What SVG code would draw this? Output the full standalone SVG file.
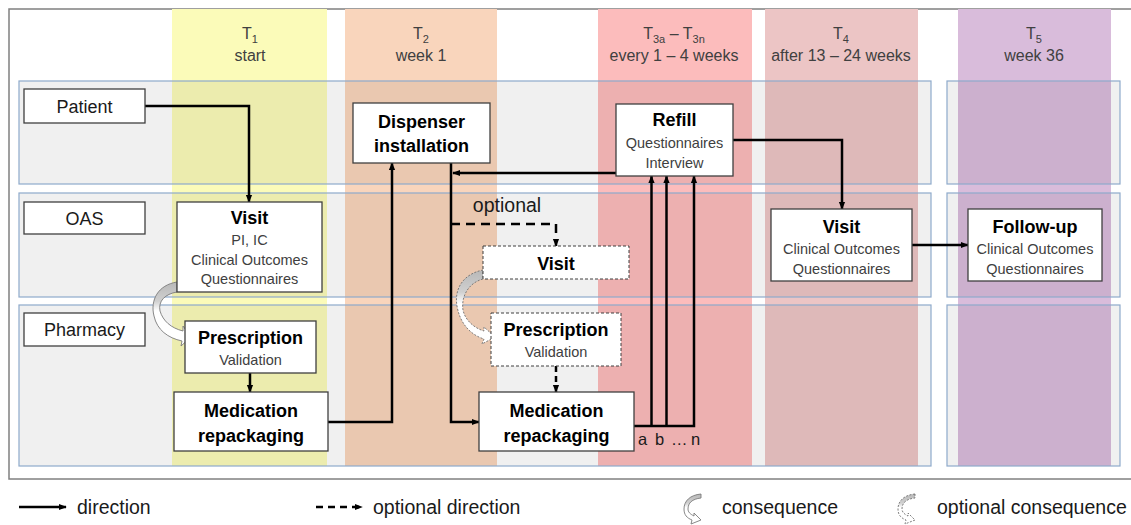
<svg xmlns="http://www.w3.org/2000/svg" width="1131" height="525" viewBox="0 0 1131 525">
  <defs>
    <style>
      text { font-family: "Liberation Sans", Arial, sans-serif; }
      .hd { font-size: 16px; fill: #404040; text-anchor: middle; }
      .sb { font-size: 11px; }
      .band { stroke: none; }
      .lane { fill: #000; fill-opacity: 0.06; stroke: #8eaacb; stroke-width: 1.2; }
      .box { fill: #fff; stroke: #3f3f3f; stroke-width: 1.3; }
      .opt { stroke-dasharray: 3 2; stroke-width: 1; }
      .ti { font-size: 18px; font-weight: bold; fill: #000; text-anchor: middle; }
      .tx { font-size: 14.5px; fill: #404040; text-anchor: middle; }
      .lb { font-size: 18px; fill: #1a1a1a; text-anchor: middle; }
      .ln { fill: none; stroke: #000; stroke-width: 2.5; marker-end: url(#ah); }
      .dash { stroke-dasharray: 9 6; }
      .lg { font-size: 19.5px; fill: #1a1a1a; }
      .cq { fill: url(#cqGrad); stroke: #7a7a7a; stroke-width: 0.9; }
      .cqo { fill: url(#cqGrad); stroke: #6f6f6f; stroke-width: 0.9; stroke-dasharray: 2 1.5; }
    </style>
    <marker id="ah" viewBox="0 0 10 10" refX="9" refY="5" markerWidth="8" markerHeight="8" markerUnits="userSpaceOnUse" orient="auto">
      <path d="M0,1 L10,5 L0,9 Z" fill="#000"/>
    </marker>
    <linearGradient id="cqGrad" x1="0" y1="0" x2="0" y2="1">
      <stop offset="0" stop-color="#b8b8b8"/>
      <stop offset="0.3" stop-color="#d0d0d0"/>
      <stop offset="0.45" stop-color="#ffffff"/>
      <stop offset="1" stop-color="#ffffff"/>
    </linearGradient>
    <!-- small curved arrow used in the legend -->
    <path id="cqIcon" d="M701,494 C690,495 684,501 684,509 C684,515 687,518 692,520 L691,524 L701,520 L694,513 L694,516 C690,514 688,512 688,509 C688,503 692,499 701,498 Z"/>
  </defs>

  <!-- outer frame -->
  <rect x="9" y="9" width="1130" height="470" fill="#fff" stroke="#808080" stroke-width="1.5"/>

  <!-- time columns -->
  <g id="columns">
    <rect class="band" x="172" y="9" width="155" height="457" fill="#fbfbb9"/>
    <rect class="band" x="345" y="9" width="152" height="457" fill="#f9d5bc"/>
    <rect class="band" x="598" y="9" width="154" height="457" fill="#fcbcbc"/>
    <rect class="band" x="765" y="9" width="153" height="457" fill="#ecc5c5"/>
    <rect class="band" x="958" y="9" width="153" height="457" fill="#d9bcdb"/>
  </g>

  <!-- swim lanes -->
  <g id="lanes">
    <rect class="lane" x="19" y="81" width="912" height="103"/>
    <rect class="lane" x="947" y="81" width="173" height="103"/>
    <rect class="lane" x="19" y="193" width="912" height="104"/>
    <rect class="lane" x="947" y="193" width="173" height="104"/>
    <rect class="lane" x="19" y="305" width="912" height="161"/>
    <rect class="lane" x="947" y="305" width="173" height="161"/>
  </g>

  <!-- column headers -->
  <g id="headers">
    <text class="hd" x="250" y="39">T<tspan class="sb" dy="4">1</tspan></text>
    <text class="hd" x="250" y="61">start</text>
    <text class="hd" x="421" y="39">T<tspan class="sb" dy="4">2</tspan></text>
    <text class="hd" x="421" y="61">week 1</text>
    <text class="hd" x="674" y="39">T<tspan class="sb" dy="4">3a</tspan><tspan dy="-4"> – T</tspan><tspan class="sb" dy="4">3n</tspan></text>
    <text class="hd" x="674" y="61">every 1 – 4 weeks</text>
    <text class="hd" x="841" y="39">T<tspan class="sb" dy="4">4</tspan></text>
    <text class="hd" x="841" y="61">after 13 – 24 weeks</text>
    <text class="hd" x="1034" y="39">T<tspan class="sb" dy="4">5</tspan></text>
    <text class="hd" x="1034" y="61">week 36</text>
  </g>

  <!-- connectors -->
  <g id="connectors">
    <path class="ln" d="M145,106 H249 V202"/>
    <path class="ln" d="M250,373 V392"/>
    <path class="ln" d="M328,422 H392 V163"/>
    <path class="ln" d="M451,163 V422 H479"/>
    <path class="ln dash" d="M451,224 H556 V246"/>
    <text x="507" y="212" font-size="19.5" fill="#1a1a1a" text-anchor="middle">optional</text>
    <path class="ln dash" d="M556,366 V392" style="stroke-dasharray:6 4"/>
    <path class="ln" d="M616,173 H453"/>
    <path class="ln" d="M634,426 H694 V176"/>
    <path class="ln" d="M651.5,426 V176"/>
    <path class="ln" d="M666.5,426 V176"/>
    <text x="638" y="445" font-size="16.5" fill="#1a1a1a">a</text>
    <text x="655" y="445" font-size="16.5" fill="#1a1a1a">b</text>
    <text x="671" y="445" font-size="16.5" fill="#1a1a1a">…</text>
    <text x="691" y="445" font-size="16.5" fill="#1a1a1a">n</text>
    <path class="ln" d="M733,140 H842 V209"/>
    <path class="ln" d="M912,245 H968"/>
    <!-- curved "consequence" arrows -->
    <path class="cq" d="M177,282 C158,285 150,300 154,316 C157,330 168,338 182,341 L181,346 L191,337 L183,326 L183,331 C171,328 163,321 160,311 C158,301 165,294 177,292 Z"/>
    <path class="cqo" d="M483,270 C463,274 454,289 457,306 C460,324 471,335 484,339 L482,344 L495,337 L484,327 L484,331 C474,328 465,320 463,310 C461,297 468,283 483,279 Z"/>
  </g>

  <!-- lane labels -->
  <g id="patient">
    <rect class="box" x="24" y="89" width="121" height="34"/>
    <text class="lb" x="84.5" y="112.5">Patient</text>
  </g>
  <g id="oas">
    <rect class="box" x="24" y="202" width="121" height="32"/>
    <text class="lb" x="84.5" y="224.5">OAS</text>
  </g>
  <g id="pharmacy">
    <rect class="box" x="24" y="313" width="121" height="33"/>
    <text class="lb" x="84.5" y="336">Pharmacy</text>
  </g>

  <!-- T1 -->
  <g id="visit-t1">
    <rect class="box" x="177" y="202" width="145" height="90"/>
    <text class="ti" x="249.5" y="224">Visit</text>
    <text class="tx" x="249.5" y="245">PI, IC</text>
    <text class="tx" x="249.5" y="265">Clinical Outcomes</text>
    <text class="tx" x="249.5" y="284">Questionnaires</text>
  </g>
  <g id="prescription-t1">
    <rect class="box" x="185" y="321" width="131" height="52"/>
    <text class="ti" x="250.5" y="344">Prescription</text>
    <text class="tx" x="250.5" y="365">Validation</text>
  </g>
  <g id="repackaging-t1">
    <rect class="box" x="174" y="392" width="154" height="59"/>
    <text class="ti" x="251" y="417">Medication</text>
    <text class="ti" x="251" y="442">repackaging</text>
  </g>

  <!-- T2 -->
  <g id="dispenser">
    <rect class="box" x="353" y="103" width="137" height="60"/>
    <text class="ti" x="421.5" y="127.5">Dispenser</text>
    <text class="ti" x="421.5" y="152">installation</text>
  </g>
  <g id="visit-optional">
    <rect class="box opt" x="483" y="246" width="146" height="33"/>
    <text class="ti" x="556" y="269.5">Visit</text>
  </g>
  <g id="prescription-optional">
    <rect class="box opt" x="491" y="313" width="130" height="53"/>
    <text class="ti" x="556" y="336">Prescription</text>
    <text class="tx" x="556" y="357">Validation</text>
  </g>
  <g id="repackaging-t3">
    <rect class="box" x="479" y="392" width="155" height="59"/>
    <text class="ti" x="556.5" y="417">Medication</text>
    <text class="ti" x="556.5" y="442">repackaging</text>
  </g>

  <!-- T3 -->
  <g id="refill">
    <rect class="box" x="616" y="104" width="117" height="72"/>
    <text class="ti" x="674.5" y="126">Refill</text>
    <text class="tx" x="674.5" y="148">Questionnaires</text>
    <text class="tx" x="674.5" y="167.5">Interview</text>
  </g>

  <!-- T4 -->
  <g id="visit-t4">
    <rect class="box" x="771" y="209" width="141" height="72"/>
    <text class="ti" x="841.5" y="233">Visit</text>
    <text class="tx" x="841.5" y="254">Clinical Outcomes</text>
    <text class="tx" x="841.5" y="273.5">Questionnaires</text>
  </g>

  <!-- T5 -->
  <g id="follow-up">
    <rect class="box" x="968" y="209" width="134" height="72"/>
    <text class="ti" x="1035" y="233">Follow-up</text>
    <text class="tx" x="1035" y="254">Clinical Outcomes</text>
    <text class="tx" x="1035" y="273.5">Questionnaires</text>
  </g>

  <!-- legend -->
  <g id="legend">
    <path class="ln" d="M19,507 H66"/>
    <text class="lg" x="77" y="514">direction</text>
    <path class="ln" d="M316,507 H362" style="stroke-dasharray:7 5"/>
    <text class="lg" x="373" y="514">optional direction</text>
    <use href="#cqIcon" class="cq"/>
    <text class="lg" x="722" y="514">consequence</text>
    <use href="#cqIcon" class="cqo" transform="translate(214,0)"/>
    <text class="lg" x="937" y="514">optional consequence</text>
  </g>
</svg>
